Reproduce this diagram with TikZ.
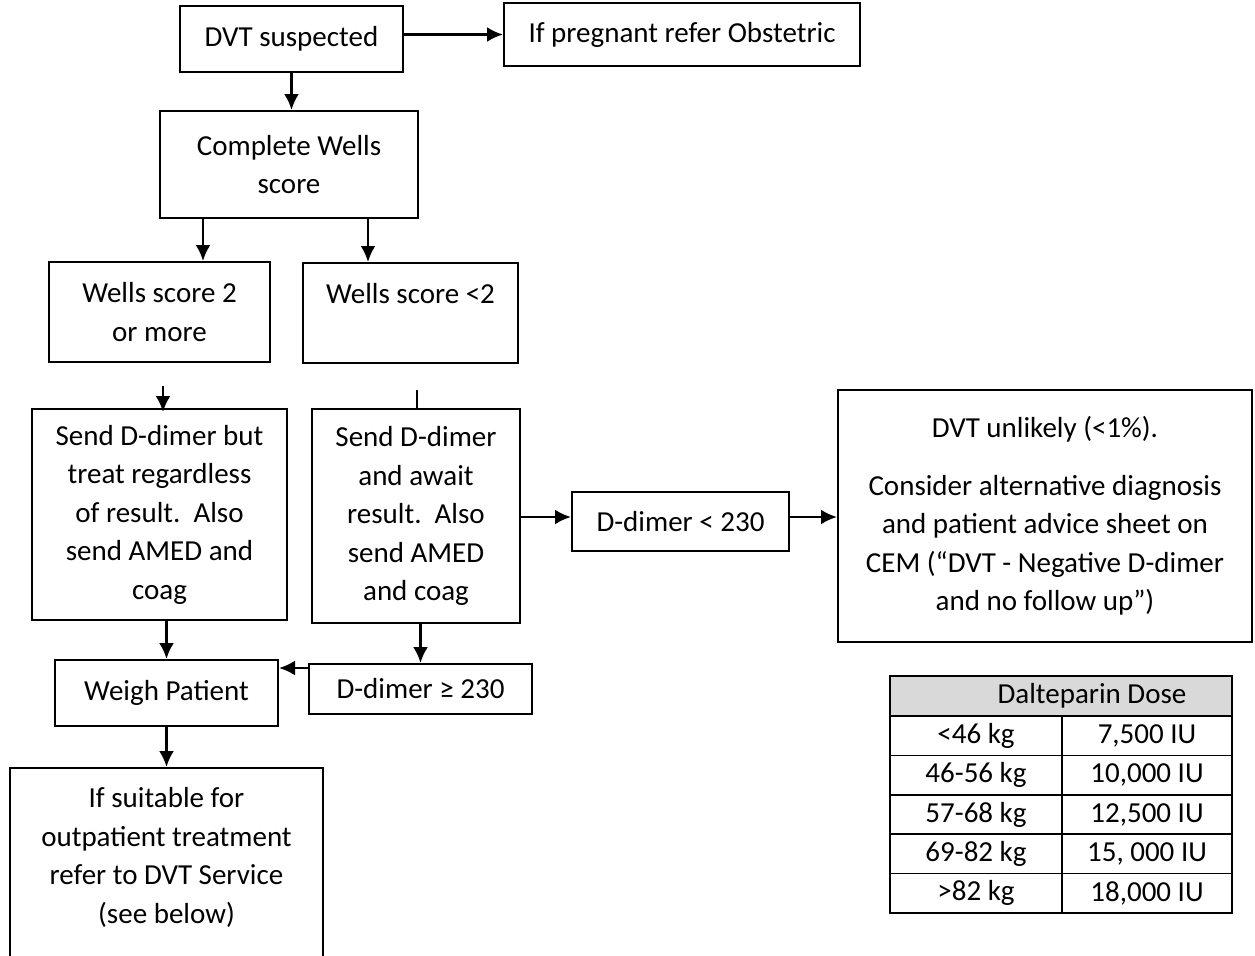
\documentclass[tikz,border=0pt]{standalone}
\usepackage{fontspec}
\setmainfont{Carlito}
\usepackage{tikz}
\usetikzlibrary{arrows.meta}
\definecolor{headgray}{HTML}{D9D9D9}
\tikzset{
    box/.style={draw,line width=1pt,align=center,inner sep=0pt,
        font=\fontsize{14.5}{19.25}\selectfont},
    cell/.style={draw,line width=0.8pt,inner sep=0pt,
        font=\fontsize{14.5}{19.25}\selectfont},
    edge/.style={->,> = {Latex[length=8pt,width=7.5pt]},line width=1.3pt}
}

\begin{document}
\begin{tikzpicture} [x=0.5pt,y=-0.5pt]
\useasboundingbox (0,0) rectangle (1255,955);

\node[box, minimum width=111.5pt, minimum height=33pt] (1) at (291.5,39) {DVT suspected};
\node[box, minimum width=178pt, minimum height=31.5pt] (2) at (682,34.5) {If pregnant refer Obstetric};
\node[box, minimum width=129pt, minimum height=53.5pt] (3) at (289,164.5) {Complete Wells\\score};
\node[box, minimum width=110.5pt, minimum height=50pt] (4) at (159.5,312) {Wells score 2\\or more};
\node[box, minimum width=107.5pt, minimum height=50pt] (5) at (410.5,313) {Wells score <2\\~};
\node[box, minimum width=127.5pt, minimum height=105.5pt] (6) at (159.5,514.5) {Send D-dimer but\\treat regardless\\of result.\ \ Also\\send AMED and\\coag};
\node[box, minimum width=104pt, minimum height=107pt] (7) at (416,516) {Send D-dimer\\and await\\result.\ \ Also\\send AMED\\and coag};
\node[box, minimum width=108.5pt, minimum height=29.5pt] (8) at (680.5,521.5) {D-dimer < 230};
\node[box, minimum width=207pt, minimum height=126pt] (9) at (1045,516) {DVT unlikely (<1\%).\\[9.5pt]Consider alternative diagnosis\\and patient advice sheet on\\CEM (“DVT - Negative D-dimer\\and no follow up”)};
\node[box, minimum width=111.5pt, minimum height=33pt] (10) at (166.5,693) {Weigh Patient};
\node[box, minimum width=111.5pt, minimum height=25pt] (11) at (420.5,689) {D-dimer ≥ 230};
\node[box, minimum width=156.5pt, minimum height=106.5pt] (12) at (166.5,874.5) {If suitable for\\outpatient treatment\\refer to DVT Service\\(see below)\\~};

\coordinate (c1) at (163,386);
\coordinate (c2) at (417,390);

\draw[edge] (2.west -| 1.east) -- (2.west);
\draw[edge] (1.south) -- (1.south |- 3.north);
\draw[edge] ([xshift=-43pt]3.south) -- ([xshift=-43pt]3.south |- 4.north);
\draw[edge] ([xshift=39.5pt]3.south) -- ([xshift=39.5pt]3.south |- 5.north);
\draw[edge, shorten >=-2pt] (c1) -- (c1 |- 6.north);
\draw[line width=1.3pt] (c2) -- (c2 |- 7.north);
\draw[edge] (10.north |- 6.south) -- (10.north);
\draw[edge] (11.north |- 7.south) -- (11.north);
\draw[edge] ([yshift=-2.5pt]11.north west) -- ([yshift=-2.5pt]11.north west -| 10.east);
\draw[edge] (10.south) -- (12.north);
\draw[edge] ([yshift=2.25pt]8.west -| 7.east) -- ([yshift=2.25pt]8.west);
\draw[edge] ([yshift=2.25pt]8.east) -- ([yshift=2.25pt]8.east -| 9.west);

% dose table
\node[cell, fill=headgray, minimum width=171pt, minimum height=20pt] (13) at (1061,696) {\hspace*{31pt}Dalteparin Dose};
\node[cell, minimum width=86pt, minimum height=19.7pt] (14) at (976,735.7) {<46 kg};
\node[cell, minimum width=85pt, minimum height=19.7pt] (15) at (1147,735.7) {7,500 IU};
\node[cell, minimum width=86pt, minimum height=19.7pt] (16) at (976,775.1) {46-56 kg};
\node[cell, minimum width=85pt, minimum height=19.7pt] (17) at (1147,775.1) {10,000 IU};
\node[cell, minimum width=86pt, minimum height=19.7pt] (18) at (976,814.5) {57-68 kg};
\node[cell, minimum width=85pt, minimum height=19.7pt] (19) at (1147,814.5) {12,500 IU};
\node[cell, minimum width=86pt, minimum height=19.7pt] (20) at (976,853.9) {69-82 kg};
\node[cell, minimum width=85pt, minimum height=19.7pt] (21) at (1147,853.9) {15, 000 IU};
\node[cell, minimum width=86pt, minimum height=19.7pt] (22) at (976,893.3) {>82 kg};
\node[cell, minimum width=85pt, minimum height=19.7pt] (23) at (1147,893.3) {18,000 IU};

\end{tikzpicture}
\end{document}
